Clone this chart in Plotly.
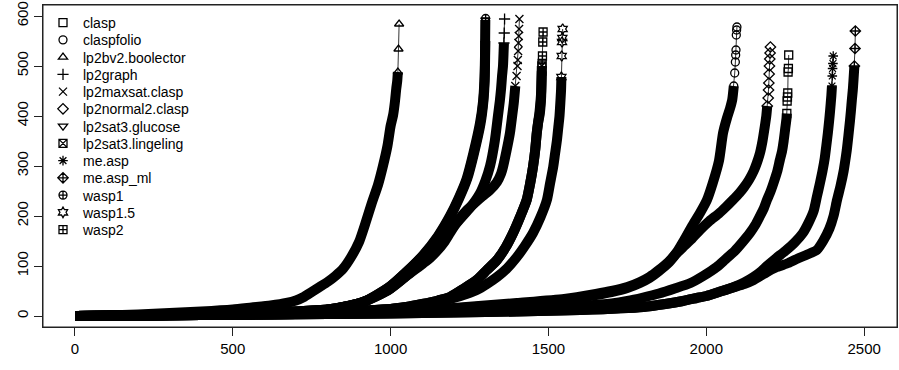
import plotly.graph_objects as go

# ---- data: (rank, time) samples ----
solvers = ["clasp", "claspfolio", "lp2bv2.boolector", "lp2graph", "lp2maxsat.clasp",
           "lp2normal2.clasp", "lp2sat3.glucose", "lp2sat3.lingeling", "me.asp",
           "me.asp_ml", "wasp1", "wasp1.5", "wasp2"]

clasp_x = [1, 200, 400, 600, 800, 1000, 1200, 1400, 1600, 1700, 1750, 1800, 1850, 1900, 1950, 1990, 2033, 2060, 2090, 2115, 2138, 2155, 2170, 2182, 2192, 2204, 2215, 2225, 2233, 2240, 2245, 2250, 2254, 2255, 2256, 2257, 2258, 2259, 2260, 2261]
clasp_y = [0, 1, 2, 3, 4, 6, 9, 13, 20, 25, 30, 37, 45, 55, 66, 80, 98, 113, 130, 148, 166, 182, 200, 215, 232, 250, 270, 290, 312, 330, 350, 375, 395, 405, 430, 438, 446, 488, 495, 522]

claspfolio_x = [1, 200, 400, 600, 800, 1000, 1200, 1400, 1550, 1650, 1700, 1750, 1790, 1820, 1850, 1880, 1907, 1930, 1955, 1980, 2002, 2020, 2040, 2053, 2065, 2075, 2082, 2087, 2090, 2092, 2093, 2094, 2095, 2096, 2097]
claspfolio_y = [0, 1, 2, 3, 5, 8, 16, 26, 34, 44, 50, 58, 68, 78, 92, 108, 128, 152, 180, 206, 232, 265, 310, 366, 395, 415, 432, 460, 486, 508, 522, 532, 562, 572, 578]

boolector_x = [1, 100, 200, 300, 400, 500, 560, 620, 670, 700, 725, 750, 775, 800, 825, 850, 875, 900, 920, 940, 960, 975, 990, 1000, 1008, 1014, 1018, 1021, 1023, 1025, 1027]
boolector_y = [0, 1, 3, 6, 9, 13, 17, 21, 26, 31, 38, 48, 58, 68, 80, 95, 118, 148, 185, 225, 262, 298, 340, 380, 402, 430, 455, 470, 488, 534, 584]

lp2graph_x = [1, 200, 400, 600, 700, 800, 850, 913, 950, 1000, 1050, 1103, 1150, 1200, 1250, 1283, 1300, 1315, 1330, 1340, 1346, 1350, 1353, 1356, 1358, 1359, 1360, 1361]
lp2graph_y = [0, 1, 3, 6, 9, 13, 18, 28, 38, 55, 80, 110, 145, 180, 215, 245, 270, 300, 350, 400, 430, 455, 480, 500, 530, 546, 566, 594]

maxsat_x = [1, 200, 400, 600, 700, 800, 850, 913, 950, 1000, 1050, 1103, 1125, 1147, 1170, 1188, 1215, 1242, 1270, 1292, 1315, 1337, 1350, 1356, 1367, 1378, 1385, 1390, 1395, 1399, 1402, 1403, 1404, 1405, 1406, 1407, 1408]
maxsat_y = [0, 1, 3, 6, 9, 13, 18, 28, 38, 55, 80, 105, 116, 130, 148, 166, 192, 212, 228, 240, 252, 268, 285, 298, 330, 366, 400, 425, 460, 480, 500, 512, 530, 546, 560, 574, 594]

normal2_x = [1, 200, 400, 600, 800, 1000, 1200, 1400, 1550, 1650, 1700, 1750, 1790, 1820, 1850, 1880, 1907, 1930, 1955, 1980, 2010, 2040, 2062, 2084, 2105, 2120, 2135, 2150, 2160, 2170, 2178, 2185, 2190, 2193, 2196, 2197, 2198, 2199, 2200, 2201, 2202, 2203]
normal2_y = [0, 1, 2, 3, 5, 8, 15, 24, 32, 42, 48, 56, 66, 76, 90, 106, 126, 140, 155, 172, 190, 205, 218, 232, 246, 258, 272, 290, 306, 326, 350, 378, 400, 420, 436, 452, 466, 484, 500, 514, 526, 538]

glucose_x = [1, 200, 400, 600, 700, 800, 850, 913, 950, 1000, 1050, 1103, 1150, 1188, 1215, 1241, 1262, 1283, 1293, 1297, 1299, 1300]
glucose_y = [0, 1, 3, 6, 9, 13, 18, 28, 40, 60, 88, 122, 160, 200, 235, 275, 325, 385, 430, 470, 520, 592]

lingeling_x = [1, 200, 400, 600, 800, 900, 1000, 1050, 1100, 1150, 1188, 1230, 1273, 1305, 1337, 1365, 1388, 1410, 1431, 1442, 1451, 1458, 1463, 1468, 1472, 1475, 1477, 1478, 1479]
lingeling_y = [0, 1, 2, 4, 7, 10, 14, 18, 24, 31, 38, 54, 72, 92, 112, 138, 166, 198, 232, 265, 298, 332, 366, 390, 402, 420, 440, 470, 500]

measp_x = [1, 200, 400, 600, 800, 1000, 1200, 1400, 1600, 1800, 1870, 1926, 1970, 2000, 2040, 2084, 2120, 2150, 2175, 2192, 2220, 2250, 2280, 2306, 2325, 2340, 2350, 2360, 2368, 2375, 2380, 2385, 2389, 2392, 2396, 2398, 2399, 2400, 2401, 2402]
measp_y = [0, 1, 2, 3, 4, 5, 7, 9, 12, 18, 24, 30, 36, 40, 48, 57, 67, 78, 90, 100, 115, 130, 147, 166, 188, 210, 238, 266, 290, 315, 340, 366, 390, 410, 440, 460, 480, 495, 505, 520]

measpml_x = [1, 200, 400, 600, 800, 1000, 1200, 1400, 1600, 1800, 1870, 1926, 1970, 2000, 2040, 2084, 2120, 2150, 2192, 2224, 2260, 2290, 2320, 2350, 2370, 2390, 2403, 2414, 2425, 2435, 2440, 2445, 2450, 2455, 2458, 2461, 2464, 2466, 2469, 2471, 2472]
measpml_y = [0, 1, 2, 3, 4, 5, 7, 9, 12, 18, 24, 30, 36, 40, 48, 57, 64, 72, 88, 98, 106, 115, 123, 132, 150, 175, 200, 232, 260, 290, 310, 332, 360, 390, 410, 432, 452, 470, 500, 535, 570]

wasp1_x = [1, 200, 400, 600, 700, 800, 850, 913, 950, 1000, 1050, 1105, 1152, 1190, 1217, 1243, 1264, 1285, 1294, 1298, 1300, 1301]
wasp1_y = [0, 1, 3, 6, 9, 13, 18, 28, 40, 60, 88, 122, 160, 200, 235, 275, 325, 385, 430, 470, 550, 595]

wasp15_x = [1, 200, 400, 600, 800, 900, 1000, 1050, 1100, 1150, 1200, 1240, 1273, 1305, 1337, 1370, 1400, 1425, 1451, 1475, 1495, 1505, 1515, 1521, 1527, 1531, 1535, 1538, 1540, 1541, 1542, 1543, 1544, 1545]
wasp15_y = [0, 1, 2, 4, 7, 10, 14, 17, 22, 28, 36, 44, 52, 64, 78, 96, 118, 140, 166, 198, 232, 265, 298, 325, 352, 376, 400, 430, 453, 478, 520, 548, 556, 574]

wasp2_x = [1, 200, 400, 600, 800, 900, 1000, 1050, 1100, 1150, 1188, 1230, 1273, 1305, 1337, 1365, 1388, 1410, 1431, 1442, 1451, 1458, 1463, 1468, 1472, 1475, 1477, 1479, 1480, 1481, 1482, 1483]
wasp2_y = [0, 1, 2, 4, 7, 10, 14, 18, 24, 31, 38, 54, 72, 92, 112, 138, 166, 198, 232, 265, 298, 332, 366, 390, 410, 430, 450, 490, 505, 520, 548, 568]

series_x = [clasp_x, claspfolio_x, boolector_x, lp2graph_x, maxsat_x, normal2_x, glucose_x,
            lingeling_x, measp_x, measpml_x, wasp1_x, wasp15_x, wasp2_x]
series_y = [clasp_y, claspfolio_y, boolector_y, lp2graph_y, maxsat_y, normal2_y, glucose_y,
            lingeling_y, measp_y, measpml_y, wasp1_y, wasp15_y, wasp2_y]

x_ticks = [0, 500, 1000, 1500, 2000, 2500]
y_ticks = [0, 100, 200, 300, 400, 500, 600]

# ---- styles / layout ----
symbols = ["square-open", "circle-open", "triangle-up-open", "cross-thin-open", "x-thin-open",
           "diamond-open", "triangle-down-open", "square-x-open", "asterisk-open",
           "diamond-cross-open", "circle-cross-open", "hexagram-open", "square-cross-open"]
# number of sparse points at the top of each curve drawn as separate symbols
tail_n = [7, 8, 3, 3, 9, 9, 0, 0, 5, 3, 2, 5, 5]

X_RANGE = [-101, 2604]
Y_RANGE = [-22, 622]
PLOT_LEFT, PLOT_TOP, PLOT_W, PLOT_H = 43, 5, 854, 322
LEG_FIRST, LEG_STEP = 23, 17.25
TICK_PX = 8

fig = go.Figure()
for xs, ys, k in zip(series_x, series_y, tail_n):
    end = len(xs) - k + 1 if k else len(xs)
    fig.add_trace(go.Scatter(x=xs[:end], y=ys[:end], mode="lines",
                             line=dict(color="black", width=10, shape="spline", smoothing=0.6),
                             showlegend=False, hoverinfo="skip"))
for xs, ys, k in zip(series_x, series_y, tail_n):
    if k:
        fig.add_trace(go.Scatter(x=xs[-k - 1:], y=ys[-k - 1:], mode="lines",
                                 line=dict(color="black", width=0.8),
                                 showlegend=False, hoverinfo="skip"))

# plot frame and outside tick marks (R style box), built from the axis ranges and tick lists
x0, x1 = X_RANGE
y0, y1 = Y_RANGE
dy = TICK_PX * (y1 - y0) / PLOT_H
dx = TICK_PX * (x1 - x0) / PLOT_W
frame_x = [x0, x1, x1, x0, x0]
frame_y = [y0, y0, y1, y1, y0]
tick_x, tick_y = [], []
for t in x_ticks:
    tick_x += [t, t, None]
    tick_y += [y0, y0 - dy, None]
for t in y_ticks:
    tick_x += [x0, x0 - dx, None]
    tick_y += [t, t, None]
fig.add_trace(go.Scatter(x=frame_x + [None] + tick_x, y=frame_y + [None] + tick_y,
                         mode="lines", line=dict(color="#222", width=1),
                         cliponaxis=False, showlegend=False, hoverinfo="skip"))

legends = {}
for i, (name, xs, ys, sym, k) in enumerate(zip(solvers, series_x, series_y, symbols, tail_n)):
    lname = "legend" if i == 0 else f"legend{i + 1}"
    fig.add_trace(go.Scatter(x=xs[-k:] if k else xs[-1:], y=ys[-k:] if k else ys[-1:],
                             mode="markers", name=name, legend=lname,
                             marker=dict(symbol=sym, size=8, color="black",
                                         line=dict(color="black", width=1.3))))
    cy = LEG_FIRST + i * LEG_STEP
    legends[lname] = dict(x=0.0, y=1 - (cy - PLOT_TOP) / PLOT_H, xanchor="left",
                          yanchor="middle", bgcolor="rgba(0,0,0,0)",
                          font=dict(family="Liberation Sans", size=14, color="black"),
                          itemwidth=30)

axis_common = dict(showgrid=False, zeroline=False, showline=True, mirror=True,
                   linecolor="#222", linewidth=1, ticks="outside", ticklen=TICK_PX,
                   tickcolor="#222", tickwidth=1, automargin=False,
                   tickfont=dict(family="Liberation Sans", size=15, color="black"))
fig.update_layout(
    width=899, height=370,
    margin=dict(l=PLOT_LEFT, r=899 - PLOT_LEFT - PLOT_W, t=PLOT_TOP, b=370 - PLOT_TOP - PLOT_H),
    paper_bgcolor="white", plot_bgcolor="white",
    xaxis=dict(range=X_RANGE, tickvals=x_ticks, **axis_common),
    yaxis=dict(range=Y_RANGE, tickvals=y_ticks, tickangle=-90, **axis_common),
    **legends,
)
fig.write_html("out.html", config={"displayModeBar": False},
               post_script="document.body.style.margin='0';")
